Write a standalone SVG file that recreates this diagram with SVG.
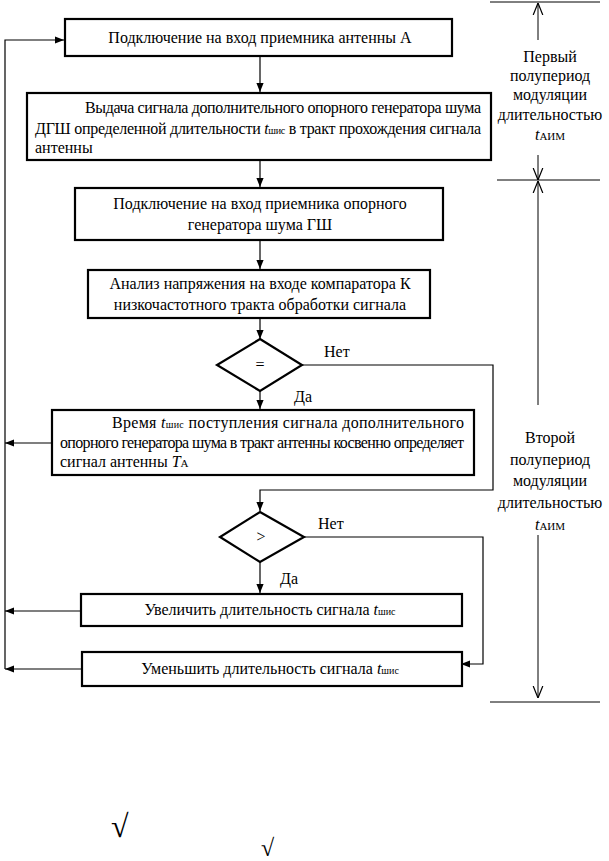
<svg xmlns="http://www.w3.org/2000/svg" width="609" height="861" viewBox="0 0 609 861" font-family="'Liberation Serif', 'DejaVu Serif', serif">
<style>
text{font-family:'Liberation Serif','DejaVu Serif',serif;font-size:16px;fill:#000}
.c{text-anchor:middle}
.box{fill:#fff;stroke:#000;stroke-width:2.2}
.ln{fill:none;stroke:#000;stroke-width:1.2}
.thin{fill:none;stroke:#000;stroke-width:1}
.sub{font-size:10px}
.it{font-style:italic}
</style>
<defs>
<marker id="ah" viewBox="0 0 10 10" refX="10" refY="5" markerWidth="9" markerHeight="9" markerUnits="userSpaceOnUse" orient="auto">
<path d="M0,1 L10,5 L0,9 Z" fill="#000"/>
</marker>
<marker id="va" viewBox="0 0 10 10" refX="10" refY="5" markerWidth="12" markerHeight="12" markerUnits="userSpaceOnUse" orient="auto">
<path d="M0,1 L10,5 L0,9" fill="none" stroke="#000" stroke-width="1"/>
</marker>
</defs>

<g id="connectors">
<path class="ln" d="M5,669 V40 H64" marker-end="url(#ah)"/>
<path class="ln" d="M260,56 V92" marker-end="url(#ah)"/>
<path class="ln" d="M260,160 V187" marker-end="url(#ah)"/>
<path class="ln" d="M260,240 V269" marker-end="url(#ah)"/>
<path class="ln" d="M260,318 V339" marker-end="url(#ah)"/>
<path class="ln" d="M260,391 V409" marker-end="url(#ah)"/>
<path class="ln" d="M52,443 H5" marker-end="url(#ah)"/>
<path class="ln" d="M302,365 H493 V490 H260 V511" marker-end="url(#ah)"/>
<path class="ln" d="M260,562 V593" marker-end="url(#ah)"/>
<path class="ln" d="M304,537 H483 V664 H461" marker-end="url(#ah)"/>
<path class="ln" d="M81,611 H5" marker-end="url(#ah)"/>
<path class="ln" d="M82,669 H5" marker-end="url(#ah)"/>
</g>

<g id="n1">
<rect class="box" x="65" y="19" width="387" height="37"/>
<text class="c" x="260" y="43">Подключение на вход приемника антенны А</text>
</g>

<g id="n2">
<rect class="box" x="27" y="93" width="464" height="67"/>
<text x="85" y="113" textLength="396" lengthAdjust="spacing">Выдача сигнала дополнительного опорного генератора шума</text>
<text x="35" y="134" textLength="446" lengthAdjust="spacing">ДГШ определенной длительности <tspan class="it">t</tspan><tspan class="sub">шис</tspan> в тракт прохождения сигнала</text>
<text x="35" y="153">антенны</text>
</g>

<g id="n3">
<rect class="box" x="75" y="188" width="368" height="52"/>
<text class="c" x="260" y="209">Подключение на вход приемника опорного</text>
<text class="c" x="260" y="230">генератора шума ГШ</text>
</g>

<g id="n4">
<rect class="box" x="88" y="270" width="342" height="48"/>
<text class="c" x="260" y="289">Анализ напряжения на входе компаратора К</text>
<text class="c" x="260" y="310">низкочастотного тракта обработки сигнала</text>
</g>

<g id="d1">
<path class="box" d="M260,339 L302,365 L260,391 L217,365 Z"/>
<text class="c" x="260" y="370">=</text>
<text x="324" y="357">Нет</text>
<text x="294" y="402">Да</text>
</g>

<g id="n5">
<rect class="box" x="52" y="410" width="422" height="65"/>
<text x="112" y="428" textLength="352" lengthAdjust="spacing">Время <tspan class="it">t</tspan><tspan class="sub">шис</tspan> поступления сигнала дополнительного</text>
<text x="60" y="448" textLength="404" lengthAdjust="spacing">опорного генератора шума в тракт антенны косвенно определяет</text>
<text x="60" y="467">сигнал антенны <tspan class="it">Т</tspan><tspan class="sub" style="font-size:11px">А</tspan></text>
</g>

<g id="d2">
<path class="box" d="M260,512 L304,537 L260,562 L220,537 Z"/>
<text class="c" x="261" y="542">&gt;</text>
<text x="318" y="529">Нет</text>
<text x="280" y="584">Да</text>
</g>

<g id="n6">
<rect class="box" x="81" y="594" width="381" height="32"/>
<text class="c" x="270" y="615">Увеличить длительность сигнала <tspan class="it">t</tspan><tspan class="sub">шис</tspan></text>
</g>

<g id="n7">
<rect class="box" x="82" y="652" width="380" height="34"/>
<text class="c" x="270" y="674">Уменьшить длительность сигнала <tspan class="it">t</tspan><tspan class="sub">шис</tspan></text>
</g>

<g id="annotation">
<path class="thin" d="M490,2 H600"/>
<path class="thin" d="M538,40 V3" marker-end="url(#va)"/>
<text class="c" x="550" y="62">Первый</text>
<text class="c" x="550" y="81">полупериод</text>
<text class="c" x="550" y="100">модуляции</text>
<text class="c" x="550" y="120">длительностью</text>
<text class="c" x="550" y="140"><tspan class="it">t</tspan><tspan style="font-size:11px">АИМ</tspan></text>
<path class="thin" d="M538,155 V180" marker-end="url(#va)"/>
<path class="thin" d="M497,180 H600"/>
<path class="thin" d="M538,405 V181" marker-end="url(#va)"/>
<text class="c" x="550" y="443">Второй</text>
<text class="c" x="550" y="465">полупериод</text>
<text class="c" x="550" y="486">модуляции</text>
<text class="c" x="550" y="508">длительностью</text>
<text class="c" x="550" y="530"><tspan class="it">t</tspan><tspan style="font-size:11px">АИМ</tspan></text>
<path class="thin" d="M538,535 V698" marker-end="url(#va)"/>
<path class="thin" d="M490,702 H600"/>
</g>

<g id="marks">
<text x="111" y="837" style="font-size:32px">√</text>
<text x="261" y="856" style="font-size:24px">√</text>
</g>
</svg>
